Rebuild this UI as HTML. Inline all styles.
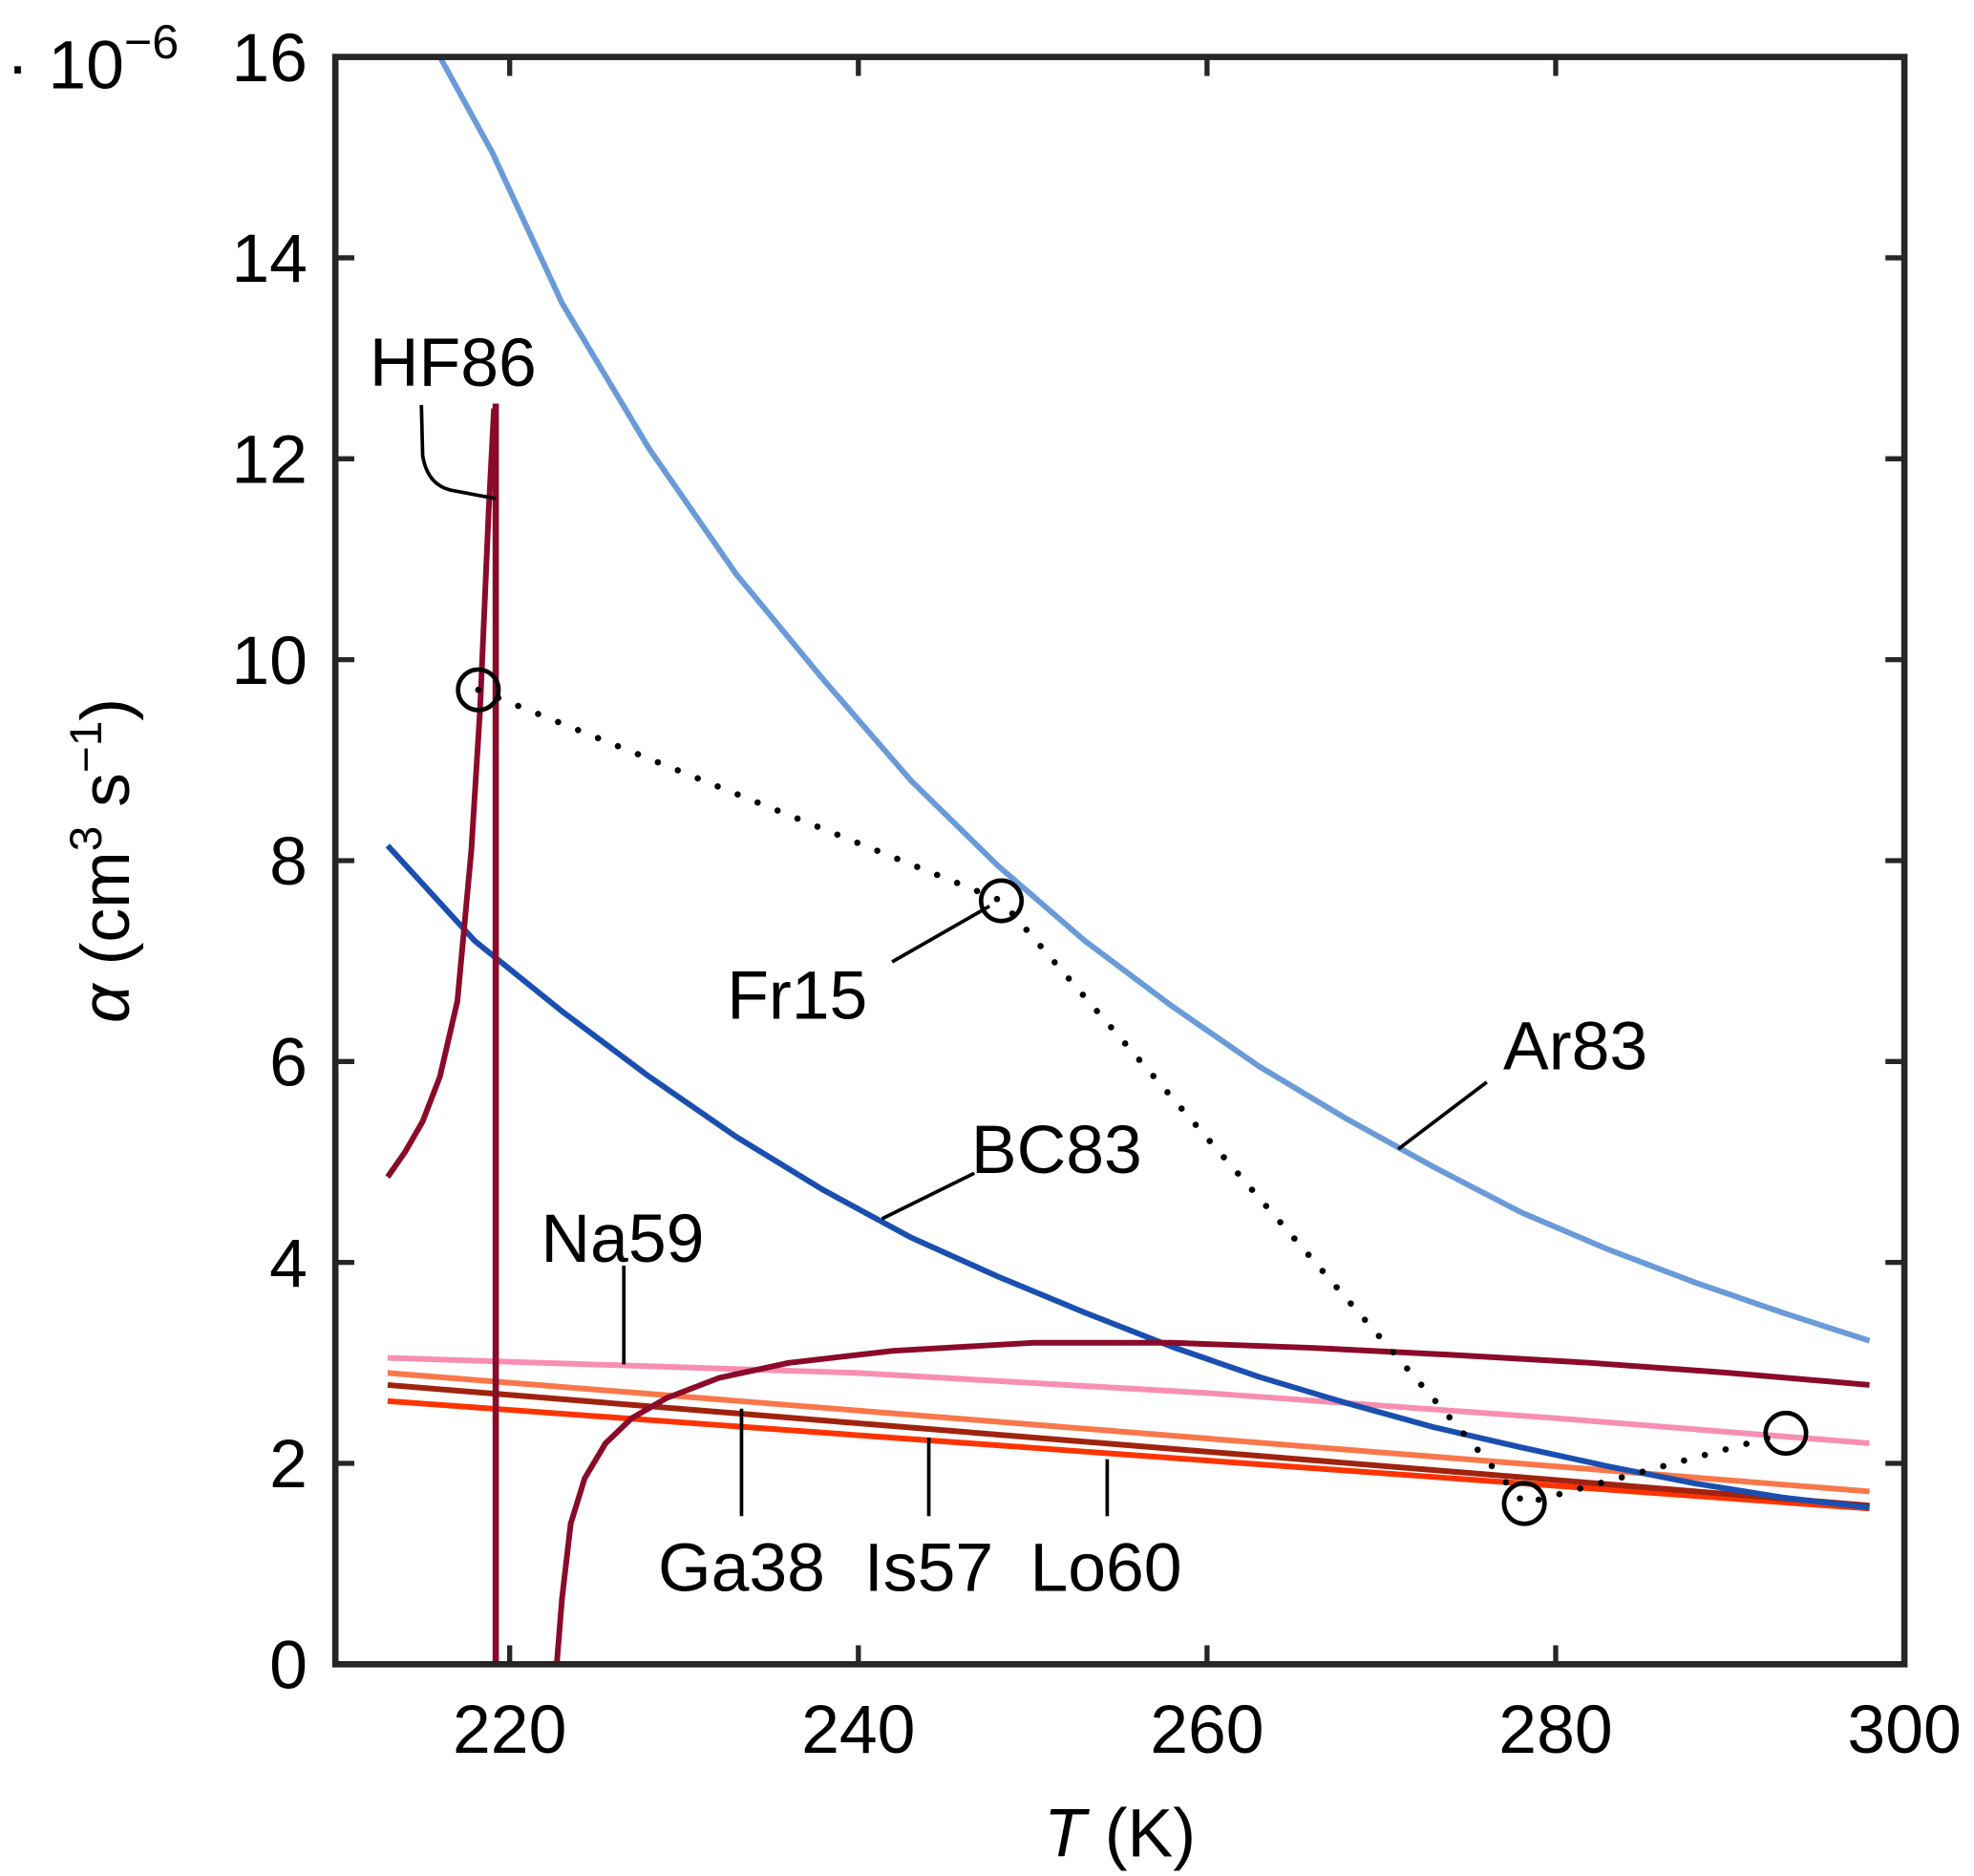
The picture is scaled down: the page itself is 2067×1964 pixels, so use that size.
<!DOCTYPE html>
<html><head><meta charset="utf-8"><style>
html,body{margin:0;padding:0;background:#fff}
svg{display:block}
text{font-family:"Liberation Sans",sans-serif;fill:#000}
</style></head><body>
<svg id="chart" width="2067" height="1964" viewBox="0 0 1560 1482.3" xmlns="http://www.w3.org/2000/svg">
<g id="plot"></g>
</svg>
<script>
const xTicks=[220,240,260,280,300];
const yTicks=[0,2,4,6,8,10,12,14,16];
const ar83T=[216,219,223,228,233,238,243,248,253,258,263,268,273,278,283,288,293,298];
const ar83V=[16,15.05,13.55,12.1,10.85,9.8,8.8,7.95,7.2,6.55,5.95,5.43,4.95,4.5,4.13,3.8,3.5,3.22];
const bc83T=[213,218,223,228,233,238,243,248,253,258,263,268,273,278,283,288,293,298];
const bc83V=[8.15,7.2,6.5,5.85,5.25,4.72,4.25,3.86,3.5,3.16,2.86,2.6,2.36,2.16,1.97,1.8,1.66,1.56];
const hfLeftT=[213,214,215,216,217,217.8,218.3,218.8,219.1];
const hfLeftV=[4.85,5.1,5.4,5.85,6.6,8.1,9.5,11.5,12.5];
const hfVertT=[219.2,219.2];
const hfVertV=[0,12.55];
const hfRightT=[222.7,223,223.5,224.3,225.5,227,229,232,236,242,250,258,266,274,282,290,298];
const hfRightV=[0,0.65,1.4,1.85,2.2,2.45,2.65,2.85,3.0,3.12,3.2,3.2,3.15,3.08,3.0,2.9,2.78];
const na59T=[213,240,260,280,298];
const na59V=[3.05,2.9,2.7,2.45,2.2];
const ga38T=[213,298];
const ga38V=[2.9,1.72];
const is57T=[213,298];
const is57V=[2.78,1.58];
const lo60T=[213,298];
const lo60V=[2.62,1.55];
const fr15T=[218.2,248.2,278.2,293.2];
const fr15V=[9.7,7.6,1.6,2.3];

const L=265,R=1505,T=45,B=1315;
const xS=t=>L+(t-210)/90*(R-L);
const yS=v=>B-v/16*(B-T);
const NS="http://www.w3.org/2000/svg";
const g=document.getElementById('plot');
function mk(tag,attrs,parent){const e=document.createElementNS(NS,tag);for(const k in attrs)e.setAttribute(k,attrs[k]);(parent||g).appendChild(e);return e;}
function line(ts,vs,color,name,w){
  const e=mk('polyline',{points:ts.map((t,i)=>xS(t)+','+yS(vs[i])).join(' '),fill:'none',stroke:color,'stroke-width':w||4.5,'stroke-linejoin':'round'});
  
  
}
line(ga38T,ga38V,'#f9774a','ga38-line');
line(lo60T,lo60V,'#ff3300','lo60-line');
line(is57T,is57V,'#a0230f','is57-line');
line(na59T,na59V,'#f98fb0','na59-line');
line(ar83T,ar83V,'#6a9bd8','ar83-line');
line(bc83T,bc83V,'#1a4fb0','bc83-line');
line(hfLeftT,hfLeftV,'#8b0a2a','hf86-left-branch');
line(hfVertT,hfVertV,'#8b0a2a','hf86-asymptote',5);
line(hfRightT,hfRightV,'#8b0a2a','hf86-right-branch');
{
  const e=mk('polyline',{points:fr15T.map((t,i)=>xS(t)+','+yS(fr15V[i])).join(' '),fill:'none',stroke:'#000','stroke-width':5,'stroke-dasharray':'0 17','stroke-linecap':'round'});
  
  
  fr15T.forEach((t,i)=>{
    const c=mk('circle',{cx:xS(t),cy:yS(fr15V[i]),r:16,fill:'none',stroke:'#000','stroke-width':3.5});
    
    
  });
}
{
  const f=mk('rect',{x:L,y:T,width:R-L,height:B-T,fill:'none',stroke:'#262626','stroke-width':5});
  
  
  xTicks.forEach(t=>{
    const x=xS(t);
    mk('line',{x1:x,y1:B,x2:x,y2:B-15,stroke:'#262626','stroke-width':4});
    mk('line',{x1:x,y1:T,x2:x,y2:T+15,stroke:'#262626','stroke-width':4});
    const tx=mk('text',{x:x,y:B+70,'font-size':54,'text-anchor':'middle'});
    tx.textContent=t;
    
    
  });
  yTicks.forEach(v=>{
    const y=yS(v);
    mk('line',{x1:L,y1:y,x2:L+15,y2:y,stroke:'#262626','stroke-width':4});
    mk('line',{x1:R,y1:y,x2:R-15,y2:y,stroke:'#262626','stroke-width':4});
    const tx=mk('text',{x:243,y:y+19,'font-size':54,'text-anchor':'end'});
    tx.textContent=v;
    
    
  });
}
function path(d,name){const p=mk('path',{d:d,fill:'none',stroke:'#000','stroke-width':2.8});}
path('M333,320 L334,360 Q338,385 360,388 L392,394','hf86-leader');
path('M705,760 L782,716','fr15-leader');
path('M1175,855 L1105,908','ar83-leader');
path('M770,927 L697,963','bc83-leader');
path('M493,1000 L493,1078','na59-leader');
path('M586,1198 L586,1113','ga38-leader');
path('M734,1198 L734,1136','is57-leader');
path('M875,1198 L875,1153','lo60-leader');
function lab(x,y,s,name){const t=mk('text',{x:x,y:y,'font-size':54,'text-anchor':'middle'});t.textContent=s;}
lab(358,305,'HF86','hf86-label');
lab(630,805,'Fr15','fr15-label');
lab(1245,845,'Ar83','ar83-label');
lab(835,927,'BC83','bc83-label');
lab(492,997,'Na59','na59-label');
lab(586,1257,'Ga38','ga38-label');
lab(734,1257,'Is57','is57-label');
lab(874,1257,'Lo60','lo60-label');
{
  const xt=mk('text',{x:885,y:1467,'font-size':54,'text-anchor':'middle'});
  xt.innerHTML='<tspan font-style="italic">T</tspan> (K)';
  
  
  const yt=mk('text',{x:0,y:0,'font-size':54,'text-anchor':'middle',transform:'translate(102,680) rotate(-90)'});
  yt.innerHTML='<tspan font-style="italic">α</tspan> (cm<tspan dy="-22" font-size="36">3</tspan><tspan dy="22"> s</tspan><tspan dy="-22" font-size="36">−1</tspan><tspan dy="22">)</tspan>';
  
  
  const m=mk('text',{x:5,y:70,'font-size':54});
  m.innerHTML='· 10<tspan dy="-24" font-size="38">−6</tspan>';
  
  
}
</script>
</body></html>
